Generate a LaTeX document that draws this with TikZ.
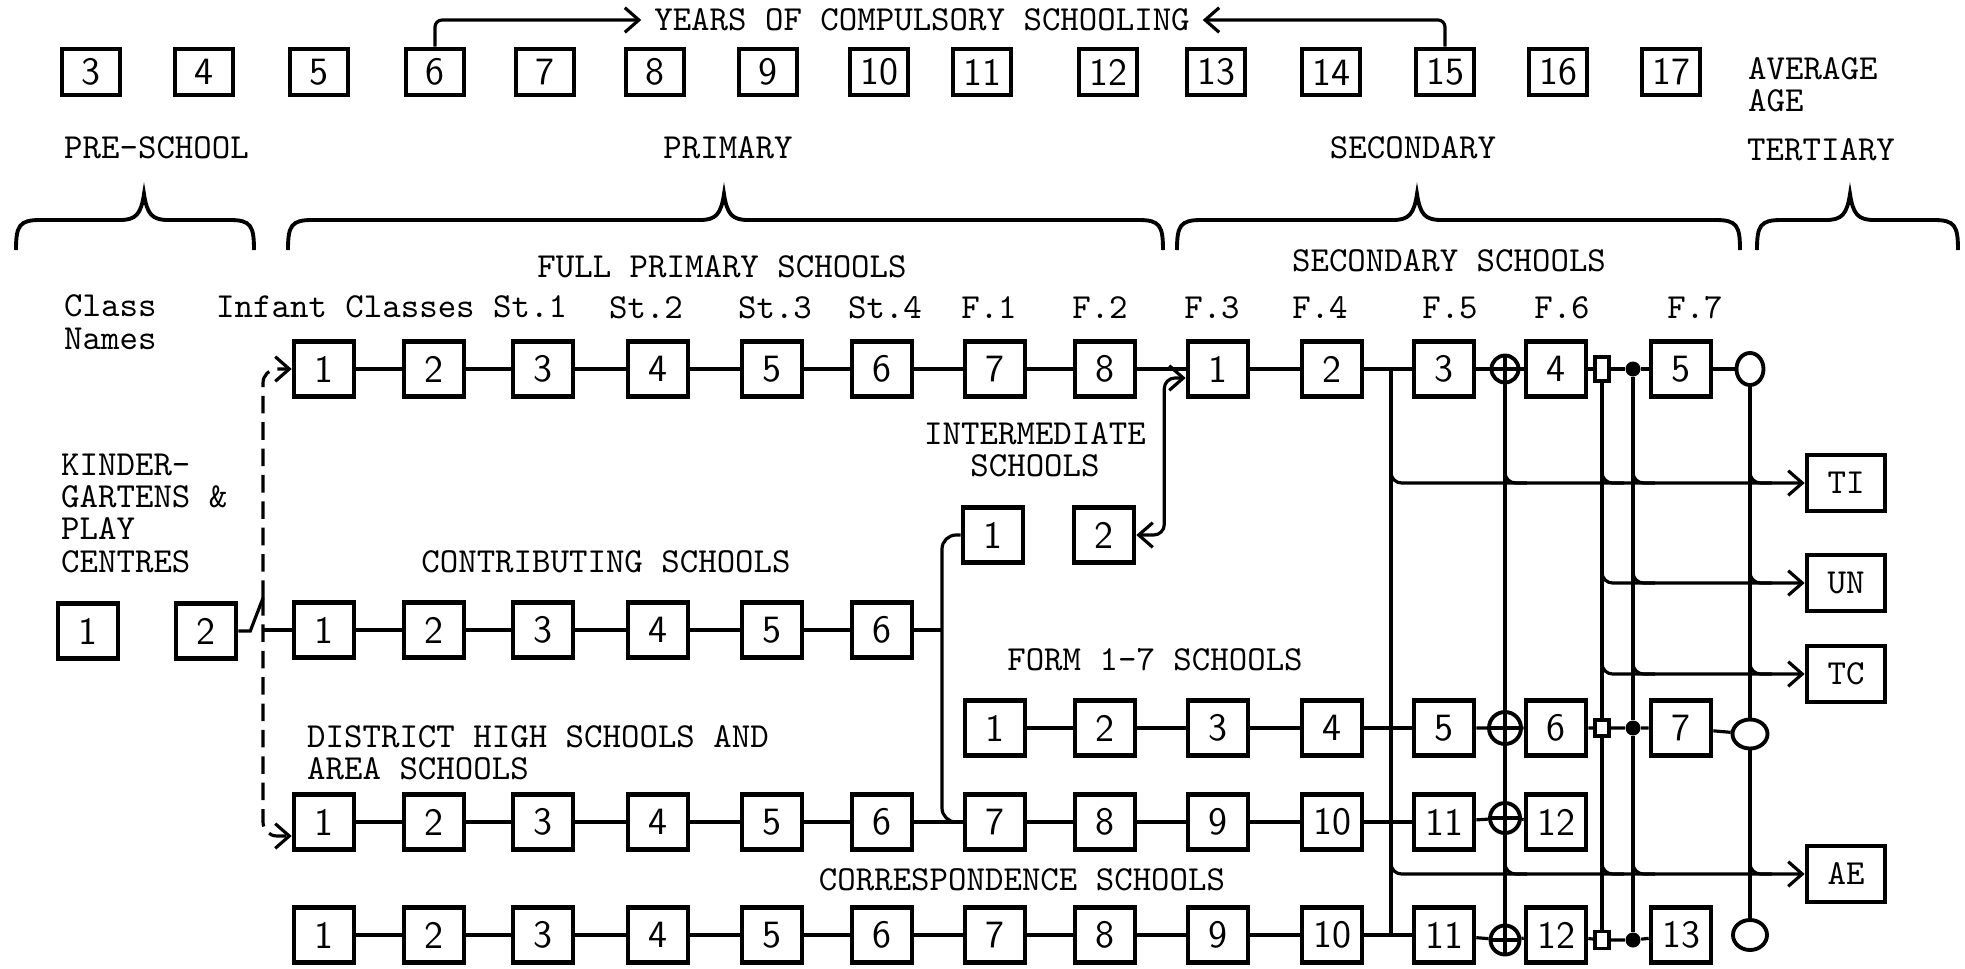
\documentclass[tikz,border=0pt]{standalone}
\usepackage{fontspec}
\usetikzlibrary{arrows.meta,calc,shapes.geometric}

\tikzset{
  link/.style={line width=0.9pt},
  numbox/.style={draw, line width=1.3pt, inner sep=0pt, font=\sffamily\fontsize{11}{11}\selectfont},
  yrbox/.style={numbox, minimum width=0.58cm, minimum height=0.46cm},
  clbox/.style={numbox, minimum width=0.6cm, minimum height=0.55cm},
  tybox/.style={numbox, minimum width=0.78cm, minimum height=0.56cm, font=\ttfamily\fontsize{10}{10}\selectfont},
  lbl/.style={font=\ttfamily\fontsize{10}{9.2}\selectfont, inner sep=1pt},
  plusring/.style={circle, draw, line width=1.1pt, minimum size=0.29cm, inner sep=0pt,
    path picture={\draw[line width=0.9pt] (path picture bounding box.north) -- (path picture bounding box.south)
      (path picture bounding box.west) -- (path picture bounding box.east);}},
  tinybox/.style={draw, line width=1pt, minimum width=0.14cm, minimum height=0.19cm, inner sep=0pt},
  blob/.style={circle, fill, minimum size=0.15cm, inner sep=0pt},
  ring/.style={ellipse, draw, line width=1.1pt, inner sep=0pt},
  kgdash/.style={link, dash pattern=on 5pt off 2.5pt},
}

% brace over a stage: left end, peak, right end
\newcommand{\stagebrace}[3]{%
  \draw[line width=1.1pt] (#1,250) .. controls (#1,226) and (#1+3,220) .. (#1+24,220)
    -- (#2-24,220) .. controls (#2-8,220) and (#2-3,214) .. (#2,194)
    .. controls (#2+3,214) and (#2+8,220) .. (#2+24,220)
    -- (#3-24,220) .. controls (#3-3,220) and (#3,226) .. (#3,250);}
% a vertical line joining a flow towards a tertiary box
\newcommand{\mergeat}[2]{%
  \draw[link, rounded corners=3pt] ($(#1 |- #2)+(0,-20)$) |- ($(#1 |- #2)+(22,0)$);}

\begin{document}
\begin{tikzpicture}[x=0.01cm, y=-0.01cm, >={Straight Barb[length=4pt,width=7pt]}]
  \useasboundingbox (0,0) rectangle (1965,969);

  % average age
  \foreach \a/\x in {3/91,4/204,5/319,6/435,7/545,8/655,9/768,10/879,11/982,12/1108,13/1216,14/1331,15/1445,16/1558,17/1671}
    \node[yrbox] (a\a) at (\x,72) {\a};
  \node[lbl, inner sep=3.5pt] (yrs) at (922,20) {YEARS OF COMPULSORY SCHOOLING};
  \draw[link, ->, rounded corners=2pt] (a6.north) |- (yrs.west);
  \draw[link, ->, rounded corners=2pt] (a15.north) |- (yrs.east);
  \node[lbl, anchor=west, align=left] (avg) at (1744,85) {AVERAGE\\AGE};

  % stages
  \node[lbl, anchor=west] (pre) at (60,148) {PRE-SCHOOL};
  \node[lbl] (prim) at (728,148) {PRIMARY};
  \node[lbl] (secy) at (1413,148) {SECONDARY};
  \node[lbl, anchor=west] (tert) at (1743,150) {TERTIARY};
  \stagebrace{16}{144}{254}
  \stagebrace{288}{724}{1163}
  \stagebrace{1177}{1417}{1740}
  \stagebrace{1757}{1850}{1958}
  \node[lbl] (fps) at (722,267) {FULL PRIMARY SCHOOLS};
  \node[lbl] (sss) at (1449,261) {SECONDARY SCHOOLS};

  % class names
  \node[lbl, anchor=west, align=left] (cls) at (60,322) {Class\\Names};
  \node[lbl, anchor=west] (inf) at (212,307) {Infant Classes St.1};
  \foreach \t/\x in {St.2/646,St.3/775,St.4/885,F.1/989,F.2/1100,F.3/1212,F.4/1320,F.5/1450,F.6/1562,F.7/1695}
    \node[lbl] at (\x,308) {\t};

  % full primary and secondary
  \foreach \i/\x in {1/324,2/434,3/543,4/658,5/772,6/882,7/995,8/1105}
    \node[clbox] (fp\i) at (\x,369) {\i};
  \foreach \i/\x in {1/1218,2/1332,3/1444,4/1556,5/1681}
    \node[clbox] (s\i) at (\x,369) {\i};
  \node[plusring, minimum size=0.27cm] (cp1) at (1505,369) {};
  \node[tinybox, minimum height=0.24cm] (sr1) at (1602,369) {};
  \node[blob] (dot1) at (1633,369) {};
  \node[ring, minimum width=0.27cm, minimum height=0.32cm] (ov1) at (1750,369) {};
  \foreach \i [remember=\i as \p (initially 1)] in {2,...,8}
    \draw[link] (fp\p) -- (fp\i);
  \draw[link] (fp8) -- (s1) -- (s2) -- (s3) -- (cp1) -- (s4) -- (sr1) -- (dot1) -- (s5) -- (ov1);

  % kindergartens
  \node[lbl, anchor=west, align=left] (kgl) at (57,513) {KINDER-\\GARTENS \&\\PLAY\\CENTRES};
  \node[clbox] (kg1) at (88,631) {1};
  \node[clbox] (kg2) at (206,631) {2};
  \coordinate (kj) at (263,598);

  % contributing
  \node[lbl] (cnl) at (606,562) {CONTRIBUTING SCHOOLS};
  \foreach \i/\x in {1/324,2/434,3/543,4/658,5/772,6/882}
    \node[clbox] (cn\i) at (\x,630) {\i};
  \foreach \i [remember=\i as \p (initially 1)] in {2,...,6}
    \draw[link] (cn\p) -- (cn\i);
  \coordinate (ij) at (942,630);
  \draw[link] (cn6) -- (ij);

  % intermediate
  \node[lbl, align=center] (ibl) at (1035,450) {INTERMEDIATE\\SCHOOLS};
  \node[clbox] (ib1) at (993,535) {1};
  \node[clbox] (ib2) at (1104,535) {2};

  % form 1-7
  \node[lbl] (fml) at (1155,660) {FORM 1-7 SCHOOLS};
  \foreach \i/\x in {1/995,2/1105,3/1218,4/1332,5/1444,6/1556,7/1681}
    \node[clbox] (fm\i) at (\x,728) {\i};
  \node[plusring, minimum size=0.32cm] (cpF) at (1505,728) {};
  \node[tinybox, minimum height=0.16cm] (srF) at (1602,728) {};
  \node[blob] (dotF) at (1633,728) {};
  \node[ring, minimum width=0.35cm, minimum height=0.29cm] (ovF) at (1750,734) {};
  \foreach \i [remember=\i as \p (initially 1)] in {2,...,5}
    \draw[link] (fm\p) -- (fm\i);
  \draw[link] (fm5) -- (cpF) -- (fm6) -- (srF) -- (dotF) -- (fm7) -- (ovF);

  % district high and area
  \node[lbl, anchor=west, align=left] (dhl) at (303,753) {DISTRICT HIGH SCHOOLS AND\\AREA SCHOOLS};
  \foreach \i/\x in {1/324,2/434,3/543,4/658,5/772,6/882,7/995,8/1105,9/1218,10/1332,11/1444,12/1556}
    \node[clbox] (dh\i) at (\x,822) {\i};
  \node[plusring, minimum size=0.3cm] (cpD) at (1505,818) {};
  \foreach \i [remember=\i as \p (initially 1)] in {2,...,11}
    \draw[link] (dh\p) -- (dh\i);
  \draw[link] (dh11) -- (cpD) -- (dh12);

  % correspondence
  \node[lbl] (crl) at (1022,880) {CORRESPONDENCE SCHOOLS};
  \foreach \i/\x in {1/324,2/434,3/543,4/658,5/772,6/882,7/995,8/1105,9/1218,10/1332,11/1444,12/1556,13/1681}
    \node[clbox] (cr\i) at (\x,935) {\i};
  \node[plusring, minimum size=0.29cm] (cpC) at (1505,940) {};
  \node[tinybox, minimum height=0.17cm] (srC) at (1602,940) {};
  \node[blob] (dotC) at (1633,940) {};
  \node[ring, minimum width=0.34cm, minimum height=0.3cm] (ovC) at (1750,935) {};
  \foreach \i [remember=\i as \p (initially 1)] in {2,...,11}
    \draw[link] (cr\p) -- (cr\i);
  \draw[link] (cr11) -- (cpC) -- (cr12) -- (srC) -- (dotC) -- (cr13);

  % entry from kindergarten
  \draw[link] (kg2.east) -- ++(12,0) -- (kj);
  \draw[link] (kj |- cn1) -- (cn1.west);
  \draw[kgdash, ->, rounded corners=4pt] (kj) |- (fp1.west);
  \draw[kgdash, ->, rounded corners=4pt] (kj) |- ($(dh1.west)+(0,14)$);

  % intermediate links
  \draw[link, rounded corners=4pt] (ib1.west) -| (ij) |- (dh7.west);
  \draw[link, <->, rounded corners=3pt] (ib2.east) -- ++(28,0) |- ($(s1.west)+(0,9)$);

  % tertiary
  \node[tybox] (ti) at (1846,483) {TI};
  \node[tybox] (un) at (1846,583) {UN};
  \node[tybox] (tc) at (1846,674) {TC};
  \node[tybox] (ae) at (1846,874) {AE};

  \coordinate (j1top) at (1391,369);
  \coordinate (j1bot) at (1391,935);
  \draw[link] (j1top) -- (j1bot);
  \draw[link] (cp1) -- (cpF) -- (cpD) -- (cpC);
  \draw[link] (sr1) -- (srF) -- (srC);
  \draw[link] (dot1) -- (dotF) -- (dotC);
  \draw[link] (ov1) -- (ovF) -- (ovC);

  \draw[link, ->, rounded corners=3pt] ($(j1top |- ti)+(0,-20)$) |- (ti.west);
  \draw[link, ->, rounded corners=3pt] ($(sr1 |- un)+(0,-20)$) |- (un.west);
  \draw[link, ->, rounded corners=3pt] ($(sr1 |- tc)+(0,-20)$) |- (tc.west);
  \draw[link, ->, rounded corners=3pt] ($(j1top |- ae)+(0,-20)$) |- (ae.west);
  \foreach \v in {cp1,sr1,dot1,ov1} {\mergeat{\v}{ti} \mergeat{\v}{ae}}
  \foreach \v in {dot1,ov1} {\mergeat{\v}{un} \mergeat{\v}{tc}}
\end{tikzpicture}
\end{document}
